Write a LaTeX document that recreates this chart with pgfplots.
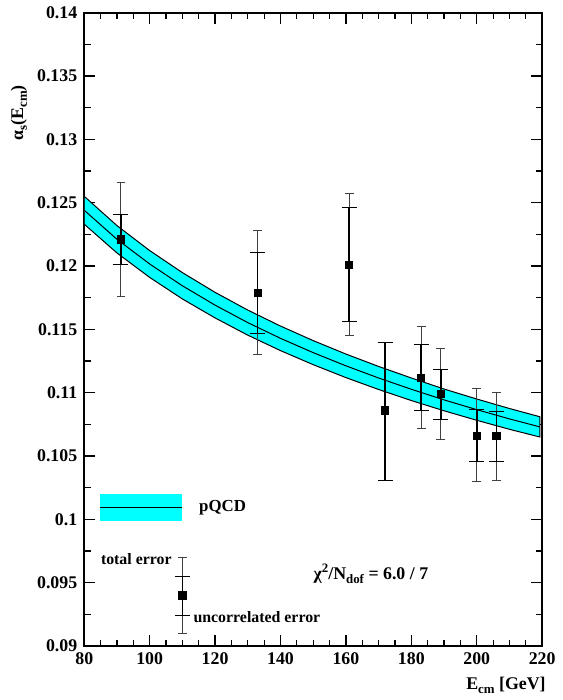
\documentclass[border=0pt]{standalone}
\usepackage{pgfplots}
\pgfplotsset{compat=1.18}
\usepackage{fontspec}
\setmainfont{Liberation Serif}
\definecolor{bandcyan}{RGB}{0,255,255}
\newcommand{\sub}[1]{\raisebox{-0.45ex}{\fontsize{6.5}{7}\selectfont #1}}
\newcommand{\sups}[1]{\raisebox{0.9ex}{\fontsize{6.5}{7}\selectfont #1}}

\pgfplotstableread{
x     y      tp     tm     up     um
91.2  0.1221 0.0045 0.0045 0.0020 0.0020
133   0.1179 0.0049 0.0049 0.0032 0.0032
161   0.1201 0.0056 0.0056 0.0045 0.0045
172   0.1086 0.0054 0.0055 0.0054 0.0055
183   0.1112 0.0040 0.0040 0.0026 0.0026
189   0.1099 0.0036 0.0036 0.0019 0.0020
200   0.1066 0.0037 0.0036 0.0021 0.0020
206   0.1066 0.0034 0.0035 0.0019 0.0020
110   0.0940 0.0030 0.0030 0.0015 0.0016
}\datatable

\begin{document}
\begin{tikzpicture}
\path (0,0) rectangle (283pt,350pt);
\begin{axis}[
  at={(42.5pt,25.5pt)}, anchor=south west,
  scale only axis, width=231pt, height=319.5pt,
  xmin=80, xmax=220, ymin=0.09, ymax=0.14,
  xtick={80,100,...,220}, minor x tick num=3,
  ytick={0.09,0.095,...,0.1401}, minor y tick num=1,
  tick align=inside, ticks=both,
  xtick pos=both, ytick pos=both,
  major tick length=5.5pt, minor tick length=3.2pt,
  axis line style={line width=0.9pt},
  every tick/.style={black, line width=0.6pt},
  tick label style={font=\fontsize{9}{10}\selectfont\bfseries},
  /pgf/number format/assume math mode=true,
  y tick label style={/pgf/number format/fixed, /pgf/number format/precision=3},
  xticklabel pos=left, yticklabel pos=left,
  clip=false,
]
% pQCD band
\addplot[fill=bandcyan, draw=black, line width=0.5pt] coordinates {
 (80,0.12550) (90,0.12319) (100,0.12122) (110,0.11948) (120,0.11792)
 (130,0.11652) (140,0.11526) (150,0.11411) (160,0.11305) (170,0.11207)
 (180,0.11116) (190,0.11029) (200,0.10950) (210,0.10875) (219.3,0.10810)
 (219.3,0.10650) (210,0.10711) (200,0.10782) (190,0.10857) (180,0.10938)
 (170,0.11025) (160,0.11119) (150,0.11221) (140,0.11332) (130,0.11454)
 (120,0.11590) (110,0.11740) (100,0.11910) (90,0.12103) (80,0.12330)
} -- cycle;
\addplot[black, line width=0.5pt] coordinates {
 (80,0.12440) (90,0.12211) (100,0.12016) (110,0.11844) (120,0.11691)
 (130,0.11553) (140,0.11429) (150,0.11316) (160,0.11212) (170,0.11116)
 (180,0.11027) (190,0.10943) (200,0.10866) (210,0.10793) (219.3,0.10730)
};
% legend band
\addplot[fill=bandcyan, draw=none] coordinates {(84.8,0.0999) (110,0.0999) (110,0.1020) (84.8,0.1020)} -- cycle;
\addplot[black, line width=0.5pt] coordinates {(84.8,0.10095) (110,0.10095)};
% total errors
\addplot[draw=none, mark=none,
  error bars/.cd, y dir=both, y explicit,
  error bar style={line width=0.5pt, black!75},
  error mark options={rotate=90, line width=0.5pt, black!75, mark size=2.2pt}]
  table[x=x, y=y, y error plus=tp, y error minus=tm] {\datatable};
% uncorrelated errors
\addplot[draw=none, mark=none,
  error bars/.cd, y dir=both, y explicit,
  error bar style={line width=0.8pt, black},
  error mark options={rotate=90, line width=0.5pt, black, mark size=3.8pt}]
  table[x=x, y=y, y error plus=up, y error minus=um] {\datatable};
% points
\addplot[only marks, mark=square*, mark size=1.8pt, black] table[x=x, y=y] {\datatable};
% texts
\node[anchor=west, inner sep=0pt, font=\fontsize{8.5}{10}\selectfont\bfseries] at (axis cs:115,0.10095) {pQCD};
\node[anchor=west, inner sep=0pt, font=\fontsize{8}{10}\selectfont\bfseries] at (axis cs:85.0,0.0969) {total error};
\node[anchor=west, inner sep=0pt, font=\fontsize{8}{10}\selectfont\bfseries] at (axis cs:113.3,0.0923) {uncorrelated error};
\node[anchor=west, inner sep=0pt, font=\fontsize{9}{10}\selectfont\bfseries] at (axis cs:150.0,0.0957) {χ\sups{2}/N\sub{dof} = 6.0 / 7};
\node[rotate=90, font=\fontsize{9}{10}\selectfont\bfseries] at (axis cs:60.0,0.1321) {α\sub{s}(E\sub{cm})};
\node[anchor=east, font=\fontsize{9}{10}\selectfont\bfseries] at (axis cs:223.2,0.0869) {E\sub{cm} [GeV]};
\end{axis}
\end{tikzpicture}
\end{document}
